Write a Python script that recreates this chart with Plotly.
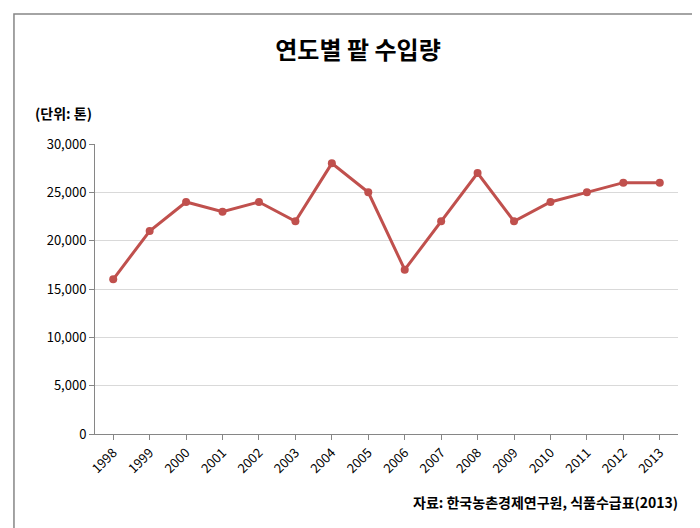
import plotly.graph_objects as go

years = ["1998","1999","2000","2001","2002","2003","2004","2005","2006","2007","2008","2009","2010","2011","2012","2013"]
imports = [16000,21000,24000,23000,24000,22000,28000,25000,17000,22000,27000,22000,24000,25000,26000,26000]

fig = go.Figure(go.Scatter(x=years, y=imports, mode="lines+markers",
    line=dict(color="#C0504D", width=3), marker=dict(color="#C0504D", size=8)))
font = "Noto Sans CJK KR"
fig.update_layout(
    width=700, height=528, paper_bgcolor="white", plot_bgcolor="white",
    margin=dict(l=87, r=30, t=136, b=102, autoexpand=False), showlegend=False,
    font=dict(family=font, color="black", size=13),
    title=dict(text="<b>연도별 팥 수입량</b>", x=0.5, xanchor="center", y=0.92, yanchor="middle",
               font=dict(size=24, family=font)),
    xaxis=dict(tickangle=-45, showline=True, linecolor="#868686", ticks="outside",
               ticklen=5, tickcolor="#868686", showgrid=False, range=[-0.5, 15.5]),
    yaxis=dict(range=[0, 30000], dtick=5000, tickformat=",", showline=True, linecolor="#868686",
               ticks="outside", ticklen=5, tickcolor="#868686", gridcolor="#D9D9D9"),
    shapes=[dict(type="rect", xref="paper", yref="paper", x0=-0.139, x1=1.041, y0=-0.328, y1=1.448,
                 line=dict(color="#868686", width=1.5))],
    annotations=[
        dict(text="<b>(단위: 톤)</b>", xref="paper", yref="paper", x=-0.106, y=1.107,
             xanchor="left", yanchor="middle", showarrow=False, font=dict(size=14)),
        dict(text="<b>자료: 한국농촌경제연구원, 식품수급표(2013)</b>", xref="paper", yref="paper",
             x=1.003, y=-0.234, xanchor="right", yanchor="middle", showarrow=False, font=dict(size=14)),
    ],
)
fig.write_html("out.html")
